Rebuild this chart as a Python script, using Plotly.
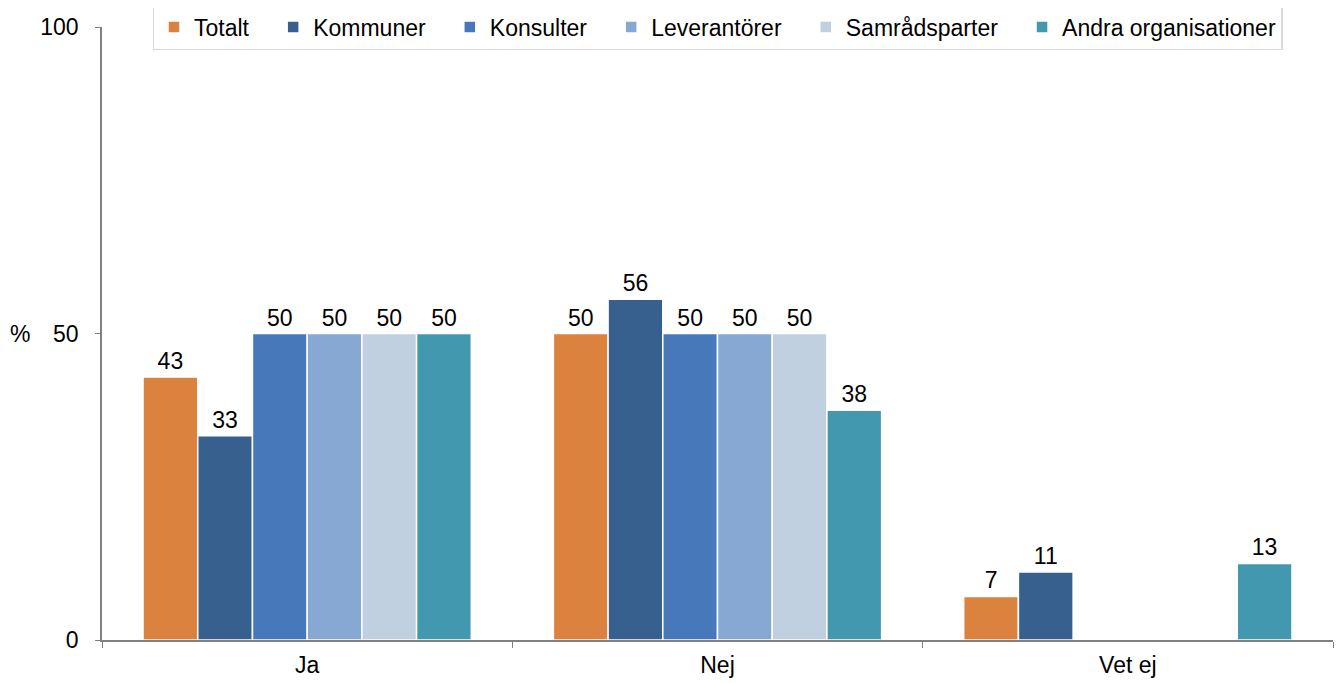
import plotly.graph_objects as go

categories = ["Ja", "Nej", "Vet ej"]
series_names = ["Totalt", "Kommuner", "Konsulter", "Leverantörer", "Samrådsparter", "Andra organisationer"]
totalt = [42.9, 50.0, 7.1]
kommuner = [33.3, 55.6, 11.1]
konsulter = [50.0, 50.0, 0.0]
leverantorer = [50.0, 50.0, 0.0]
samradsparter = [50.0, 50.0, 0.0]
andra = [50.0, 37.5, 12.5]
colors = ["#DB823F", "#37608F", "#4779BA", "#86A8D2", "#C1D0E0", "#4298AF"]

series_values = [totalt, kommuner, konsulter, leverantorer, samradsparter, andra]

FONT = "Liberation Sans, Arial, sans-serif"
FS = 23
PAD = "\u00a0" * 3  # extra room between legend items

fig = go.Figure()
for i, (name, vals, col) in enumerate(zip(series_names, series_values, colors)):
    labels = [str(int(v + 0.5)) if v > 0 else "" for v in vals]
    fig.add_trace(go.Bar(
        x=categories,
        y=vals,
        name=name + (PAD if i < len(series_names) - 1 else ""),
        marker=dict(color=col, line=dict(color="white", width=1.5)),
        text=labels,
        textposition="outside",
        textfont=dict(size=FS, color="black", family=FONT),
        cliponaxis=False,
    ))

# page body has an 8px margin, so the figure is a little smaller than the window
fig.update_layout(
    barmode="group",
    bargap=0.2,
    bargroupgap=0,
    width=1335,
    height=675,
    margin=dict(l=94, r=10, t=19, b=43, autoexpand=False),
    plot_bgcolor="white",
    paper_bgcolor="white",
    font=dict(family=FONT, size=FS, color="black"),
    legend=dict(
        orientation="h",
        x=0.5, xanchor="center",
        y=1.0, yanchor="middle",
        bordercolor="#D9D9D9",
        borderwidth=1.5,
        bgcolor="white",
        font=dict(size=FS, family=FONT),
        itemwidth=30,
        traceorder="normal",
    ),
    showlegend=True,
)

fig.update_xaxes(
    showline=True, linecolor="#808080", linewidth=1.5,
    ticks="outside", tickson="boundaries", ticklen=6, tickcolor="#808080",
    tickfont=dict(size=FS), showgrid=False, automargin=False,
    ticklabelstandoff=4,
)
fig.update_yaxes(
    range=[0, 100], tickvals=[0, 50, 100],
    showline=True, linecolor="#808080", linewidth=1.5,
    ticks="outside", ticklen=5, tickcolor="#808080",
    tickfont=dict(size=FS), showgrid=False, zeroline=False,
    ticklabelstandoff=12, automargin=False,
)

fig.add_annotation(
    text="%", xref="paper", yref="y", x=-0.057, y=50,
    xanchor="right", yanchor="middle", showarrow=False,
    font=dict(size=FS),
)

fig.write_html("out.html")
